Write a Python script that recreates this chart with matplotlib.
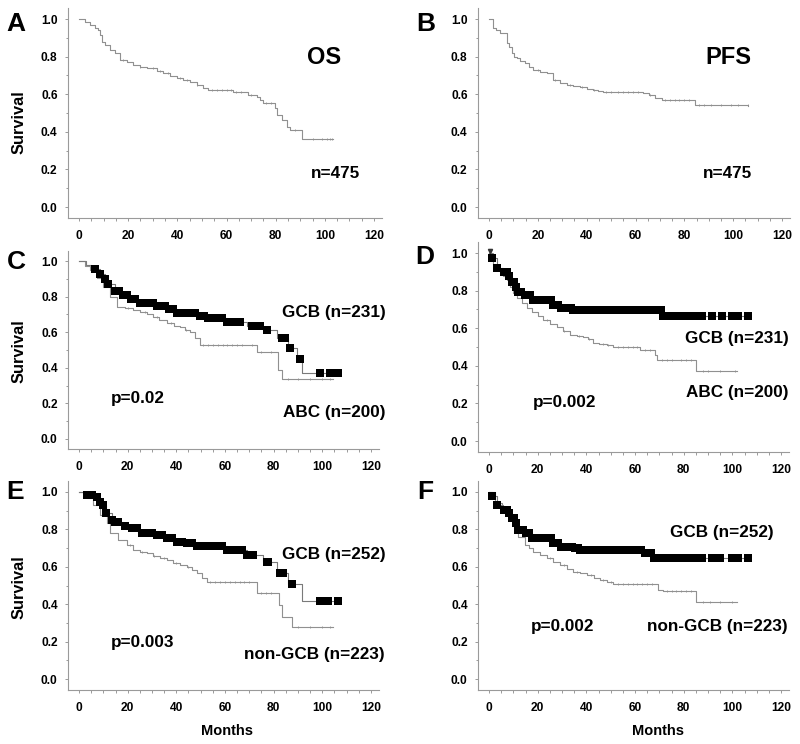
import numpy as np
import matplotlib.pyplot as plt

plt.rcParams['font.family'] = ['Liberation Sans', 'DejaVu Sans']
plt.rcParams['font.weight'] = 'bold'

# ---- data (months, survival) ----
# A: OS, all patients
a_t = [0, 2.4, 4.5, 6.5, 7.8, 8.5, 9.2, 10.6, 12.6, 14.6, 16.7, 19.4, 22.1, 24.8, 27.5, 31.6, 34.3, 37.0,
       39.7, 42.4, 45.2, 47.9, 50.6, 52.6, 62.7, 68.9, 72.3, 73.6, 74.9, 79.7, 80.7, 82.5, 84.5, 85.8, 90.6, 103.5]
a_s = [1.0, 0.986, 0.968, 0.95, 0.941, 0.915, 0.879, 0.862, 0.835, 0.817, 0.782, 0.773, 0.755, 0.746, 0.738,
       0.723, 0.711, 0.697, 0.684, 0.676, 0.667, 0.649, 0.631, 0.622, 0.613, 0.597, 0.587, 0.569, 0.551, 0.525,
       0.489, 0.463, 0.427, 0.41, 0.36, 0.36]
a_cens = [18, 25, 30, 33, 36, 41, 44, 48, 54, 56, 58, 60, 62, 64, 66, 70, 76, 78, 88, 95, 99, 101, 102, 103]

# B: PFS, all patients
b_t = [0, 1.8, 3.0, 4.5, 7.2, 8.2, 9.3, 10.3, 11.3, 12.8, 14.7, 16.5, 18.2, 21.0, 23.6, 26.3, 29.0, 31.8,
       34.5, 37.3, 40.0, 42.7, 44.5, 46.8, 63.1, 65.5, 68.0, 70.7, 84.4, 106.2]
b_s = [1.0, 0.95, 0.94, 0.924, 0.871, 0.85, 0.817, 0.80, 0.791, 0.775, 0.764, 0.745, 0.729, 0.718, 0.711,
       0.676, 0.66, 0.649, 0.642, 0.637, 0.63, 0.622, 0.618, 0.613, 0.605, 0.595, 0.578, 0.567, 0.54, 0.537]
b_cens = [20, 27, 33, 38, 43, 48, 50, 53, 55, 57, 59, 61, 66, 72, 74, 76, 78, 80, 82, 86, 88, 91, 95, 99, 102, 106]

# C: OS, ABC vs GCB
c_abc_t = [0, 2.5, 4.5, 7.3, 10.0, 12.7, 15.5, 18.9, 22.0, 25.1, 28.0, 30.5, 33.0, 36.0, 39.0, 41.5, 43.5,
           45.6, 47.7, 49.7, 73.0, 81.9, 83.3, 104.5]
c_abc_s = [1.0, 0.97, 0.949, 0.903, 0.856, 0.80, 0.743, 0.734, 0.725, 0.715, 0.70, 0.687, 0.67, 0.65, 0.637,
           0.627, 0.615, 0.603, 0.566, 0.53, 0.487, 0.39, 0.335, 0.335]
c_abc_cens = [20, 27, 32, 38, 44, 51, 53, 55, 57, 59, 61, 63, 65, 67, 71, 75, 79, 86, 90, 95, 100, 103]
c_gcb_t = [0, 3.0, 5.0, 6.6, 8.6, 10.7, 12.0, 14.8, 17.5, 20.3, 23.7, 31.9, 36.0, 40.2, 49.7, 52.5, 60.7,
           68.9, 75.7, 81.2, 86.0, 89.5, 91.5, 106.6]
c_gcb_s = [1.0, 0.98, 0.965, 0.953, 0.925, 0.897, 0.871, 0.833, 0.809, 0.785, 0.766, 0.747, 0.728, 0.706,
           0.691, 0.678, 0.659, 0.635, 0.612, 0.566, 0.51, 0.448, 0.369, 0.369]
c_gcb_cens = [6.6, 8.6, 10.7, 12.0, 14.8, 16.4, 17.9, 19.6, 21.2, 23.0, 25.1, 26.7, 28.5, 30.3, 32.0, 33.6,
              35.3, 37.1, 38.8, 40.4, 42.2, 44.2, 45.9, 47.7, 49.8, 51.4, 53.2, 55.2, 56.9, 58.6, 60.8, 63.2,
              66.1, 71.0, 74.4, 77.1, 83.3, 84.6, 86.7, 90.8, 99.0, 103.2, 106.6]

# D: PFS, ABC vs GCB
d_abc_t = [0, 1.8, 3.0, 4.5, 5.8, 7.3, 8.6, 10.0, 11.7, 13.4, 15.5, 17.5, 20.0, 22.3, 25.0, 27.8, 30.5,
           33.3, 36.0, 38.8, 40.5, 42.9, 45.0, 48.4, 51.1, 62.0, 68.2, 68.9, 85.1, 101.8]
d_abc_s = [1.0, 0.936, 0.92, 0.90, 0.88, 0.856, 0.82, 0.786, 0.76, 0.732, 0.71, 0.688, 0.665, 0.644, 0.625,
           0.605, 0.585, 0.564, 0.558, 0.552, 0.54, 0.52, 0.515, 0.511, 0.502, 0.484, 0.457, 0.431, 0.374, 0.374]
d_abc_cens = [24, 31, 37, 41, 47, 49, 53, 55, 57, 59, 61, 64, 66, 71, 73, 75, 79, 81, 83, 88, 90, 95, 101]
d_gcb_t = [0, 1.1, 3.2, 5.9, 7.9, 9.3, 10.7, 12.0, 14.8, 17.5, 25.8, 26.5, 29.2, 34.7, 71.6, 106.6]
d_gcb_s = [1.0, 0.972, 0.918, 0.90, 0.876, 0.847, 0.821, 0.794, 0.777, 0.75, 0.741, 0.723, 0.706, 0.697,
           0.665, 0.665]
d_gcb_cens = [1.1, 3.2, 6.0, 6.8, 7.6, 8.4, 9.3, 10.2, 11.0, 12.0, 13.2, 14.8, 15.8, 17.0, 18.0, 19.2, 20.5,
              21.8, 23.0, 24.3, 25.5, 26.5, 27.5, 28.5, 29.5, 30.5, 31.5, 32.5, 33.5, 34.7, 36.0, 37.3, 38.6,
              40.0, 41.3, 42.6, 44.0, 45.3, 46.6, 48.0, 49.3, 50.6, 52.0, 53.3, 54.6, 56.0, 57.3, 58.6, 60.0,
              61.3, 62.6, 64.0, 65.3, 66.6, 68.0, 69.3, 70.6, 71.6, 72.8, 74.0, 75.3, 76.6, 78.0, 79.3, 80.6,
              82.0, 83.3, 84.6, 87.4, 91.5, 95.6, 99.7, 102.5, 106.6]

# E: OS, non-GCB vs GCB
e_ngcb_t = [0, 3.2, 5.9, 8.6, 11.4, 12.7, 16.2, 19.6, 22.3, 25.0, 27.8, 30.5, 33.3, 36.0, 38.8, 41.5, 44.2,
            46.5, 48.4, 50.5, 52.5, 73.0, 82.0, 83.3, 87.4, 104.5]
e_ngcb_s = [1.0, 0.966, 0.93, 0.877, 0.833, 0.779, 0.743, 0.717, 0.69, 0.68, 0.672, 0.66, 0.645, 0.635, 0.622,
            0.612, 0.601, 0.585, 0.565, 0.54, 0.52, 0.458, 0.396, 0.333, 0.28, 0.28]
e_ngcb_cens = [21, 26, 31, 35, 40, 45, 54, 56, 58, 60, 62, 64, 66, 68, 70, 75, 77, 79, 90, 95, 100, 103]
e_gcb_t = [0, 3.4, 7.3, 8.6, 9.7, 11.1, 13.4, 14.8, 18.2, 21.0, 24.4, 31.2, 34.7, 38.8, 44.2, 48.4, 60.7,
           68.9, 75.7, 81.2, 86.0, 91.5, 106.6]
e_gcb_s = [1.0, 0.984, 0.975, 0.948, 0.93, 0.886, 0.85, 0.841, 0.818, 0.806, 0.779, 0.77, 0.752, 0.734,
           0.725, 0.711, 0.69, 0.663, 0.627, 0.565, 0.508, 0.419, 0.419]
e_gcb_cens = [3.4, 5.2, 7.3, 8.6, 9.7, 11.1, 13.4, 14.8, 16.2, 18.9, 21.6, 23.7, 25.8, 27.8, 29.9, 31.9,
              34.0, 36.0, 38.1, 40.2, 42.2, 44.2, 46.3, 48.4, 50.5, 52.5, 54.6, 56.6, 58.6, 60.7, 62.7, 64.8,
              66.8, 68.9, 71.6, 77.1, 77.8, 82.6, 84.0, 87.4, 99.0, 102.5, 106.6]

# F: PFS, non-GCB vs GCB
f_ngcb_t = [0, 2.5, 5.2, 8.6, 10.3, 12.0, 14.8, 16.5, 18.2, 21.0, 23.7, 26.5, 29.2, 32.0, 34.7, 37.5, 40.2,
            43.0, 45.6, 48.5, 51.1, 69.5, 71.6, 85.1, 101.8]
f_ngcb_s = [1.0, 0.939, 0.904, 0.859, 0.81, 0.761, 0.717, 0.70, 0.681, 0.662, 0.645, 0.628, 0.61, 0.59,
            0.574, 0.565, 0.556, 0.54, 0.529, 0.52, 0.508, 0.476, 0.47, 0.413, 0.413]
f_ngcb_cens = [25, 31, 36, 42, 47, 50, 53, 55, 57, 59, 61, 63, 65, 67, 73, 75, 77, 79, 81, 83, 88, 91, 95, 100]
f_gcb_t = [0, 1.1, 3.2, 5.9, 7.9, 9.3, 10.7, 12.0, 14.8, 17.5, 25.8, 26.5, 29.2, 34.7, 37.4, 63.4, 67.5, 106.6]
f_gcb_s = [1.0, 0.979, 0.93, 0.904, 0.886, 0.859, 0.833, 0.797, 0.779, 0.752, 0.743, 0.726, 0.708, 0.699,
           0.69, 0.672, 0.645, 0.645]
f_gcb_cens = [1.1, 3.2, 6.0, 6.8, 7.6, 8.4, 9.3, 10.2, 11.2, 12.0, 14.0, 15.2, 16.4, 17.5, 18.8, 20.0, 21.3,
              22.6, 24.0, 25.3, 26.5, 27.5, 28.5, 29.5, 30.5, 31.6, 32.8, 34.0, 35.2, 36.4, 37.6, 38.9, 40.2,
              41.5, 42.8, 44.1, 45.4, 46.7, 48.0, 49.3, 50.6, 51.9, 53.2, 54.5, 55.8, 57.1, 58.4, 59.7, 61.0,
              62.3, 64.0, 65.3, 66.6, 68.0, 69.3, 70.6, 71.9, 73.2, 74.5, 75.8, 77.1, 78.4, 79.7, 81.0, 82.3,
              83.6, 84.9, 87.4, 91.5, 95.0, 99.7, 102.5, 106.6]

x_ticks = [0, 20, 40, 60, 80, 100, 120]
y_ticks = [0.0, 0.2, 0.4, 0.6, 0.8, 1.0]
y_ticklabels = ['0.0', '0.2', '0.4', '0.6', '0.8', '1.0']

W, H = 800, 744
XLIM = (-4.5, 123.3)
YLIM = (-0.058, 1.058)
GRAY = '#909090'
AXC = '#9a9a9a'

fig = plt.figure(figsize=(8, 7.44), dpi=100)


def make_axes(x0, x120, y0, y1):
    # pixel anchors of data x=0, x=120, y=0, y=1
    pxu = (x120 - x0) / 120.0
    pyu = y0 - y1
    left = x0 + XLIM[0] * pxu
    right = x0 + XLIM[1] * pxu
    bottom = y0 - YLIM[0] * pyu
    top = y0 - YLIM[1] * pyu
    ax = fig.add_axes([left / W, 1 - bottom / H, (right - left) / W, (bottom - top) / H])
    ax.set_xlim(*XLIM)
    ax.set_ylim(*YLIM)
    ax.spines['top'].set_visible(False)
    ax.spines['right'].set_visible(False)
    for s in ['left', 'bottom']:
        ax.spines[s].set_color(AXC)
        ax.spines[s].set_linewidth(0.8)
    ax.set_xticks(x_ticks)
    ax.set_xticks(np.arange(0, 121, 5), minor=True)
    ax.set_yticks(y_ticks)
    ax.set_yticklabels(y_ticklabels)
    ax.set_yticks(np.arange(0, 1.01, 0.1), minor=True)
    ax.tick_params(which='both', direction='out', color=AXC, width=0.7)
    ax.tick_params(which='major', length=2.5, labelsize=8.6)
    ax.tick_params(which='minor', length=1.8)
    ax.tick_params(axis='y', pad=5)
    ax.tick_params(axis='x', pad=6)
    return ax


def km(ax, t, s, cens, color=GRAY):
    ax.step(t, s, where='post', color=color, lw=0.8)
    idx = np.searchsorted(t, cens, side='right') - 1
    ax.plot(cens, np.array(s)[idx], ls='none', marker='|', ms=2.0, mew=0.6, color=color)


def km_gcb(ax, t, s, cens):
    ax.step(t, s, where='post', color='#7a7a7a', lw=0.8)
    idx = np.searchsorted(t, cens, side='right') - 1
    ax.plot(cens, np.array(s)[idx], ls='none', marker='s', ms=5.3, color='black', mew=0)


def ftext(x, y, s, size, **kw):
    fig.text(x / W, 1 - y / H, s, fontsize=size, fontweight='bold', ha='center', va='center', **kw)


axA = make_axes(79, 374, 207, 19)
km(axA, a_t, a_s, a_cens)
axB = make_axes(489, 782, 207, 19)
km(axB, b_t, b_s, b_cens)
axC = make_axes(79, 371, 439, 261)
km(axC, c_abc_t, c_abc_s, c_abc_cens)
km_gcb(axC, c_gcb_t, c_gcb_s, c_gcb_cens)
axD = make_axes(489, 781, 441, 253)
km(axD, d_abc_t, d_abc_s, d_abc_cens)
km_gcb(axD, d_gcb_t, d_gcb_s, d_gcb_cens)
axD.plot([0.3], [1.01], ls='none', marker='v', ms=3, color='#333333')
axE = make_axes(79, 371, 679, 492)
km(axE, e_ngcb_t, e_ngcb_s, e_ngcb_cens)
km_gcb(axE, e_gcb_t, e_gcb_s, e_gcb_cens)
axF = make_axes(489, 781, 679, 492)
km(axF, f_ngcb_t, f_ngcb_s, f_ngcb_cens)
km_gcb(axF, f_gcb_t, f_gcb_s, f_gcb_cens)

# panel letters
for lx, ly, letter in [(16, 24, 'A'), (426, 24, 'B'), (16, 262, 'C'),
                       (425, 257, 'D'), (15, 492, 'E'), (425, 492, 'F')]:
    ftext(lx, ly, letter, 19)

# y labels
for ly in [122, 351, 587]:
    ftext(19, ly, 'Survival', 11.8, rotation=90)
ftext(227, 731, 'Months', 10.5)
ftext(658, 731, 'Months', 10.5)

# annotations
ftext(324, 57, 'OS', 17)
ftext(728, 57, 'PFS', 17)
ftext(336, 173, 'n=475', 12.3)
ftext(728, 173, 'n=475', 12.3)
ftext(334, 312, 'GCB (n=231)', 12.3)
ftext(138, 399, 'p=0.02', 12.3)
ftext(334, 413, 'ABC (n=200)', 12.3)
ftext(737, 338, 'GCB (n=231)', 12.3)
ftext(737, 392, 'ABC (n=200)', 12.3)
ftext(564, 403, 'p=0.002', 12.3)
ftext(334, 554, 'GCB (n=252)', 12.3)
ftext(143, 642, 'p=0.003', 12.3)
ftext(314, 654, 'non-GCB (n=223)', 12.3)
ftext(722, 532, 'GCB (n=252)', 12.3)
ftext(562, 627, 'p=0.002', 12.3)
ftext(717, 627, 'non-GCB (n=223)', 12.3)

fig.savefig('out.png', dpi=100)
